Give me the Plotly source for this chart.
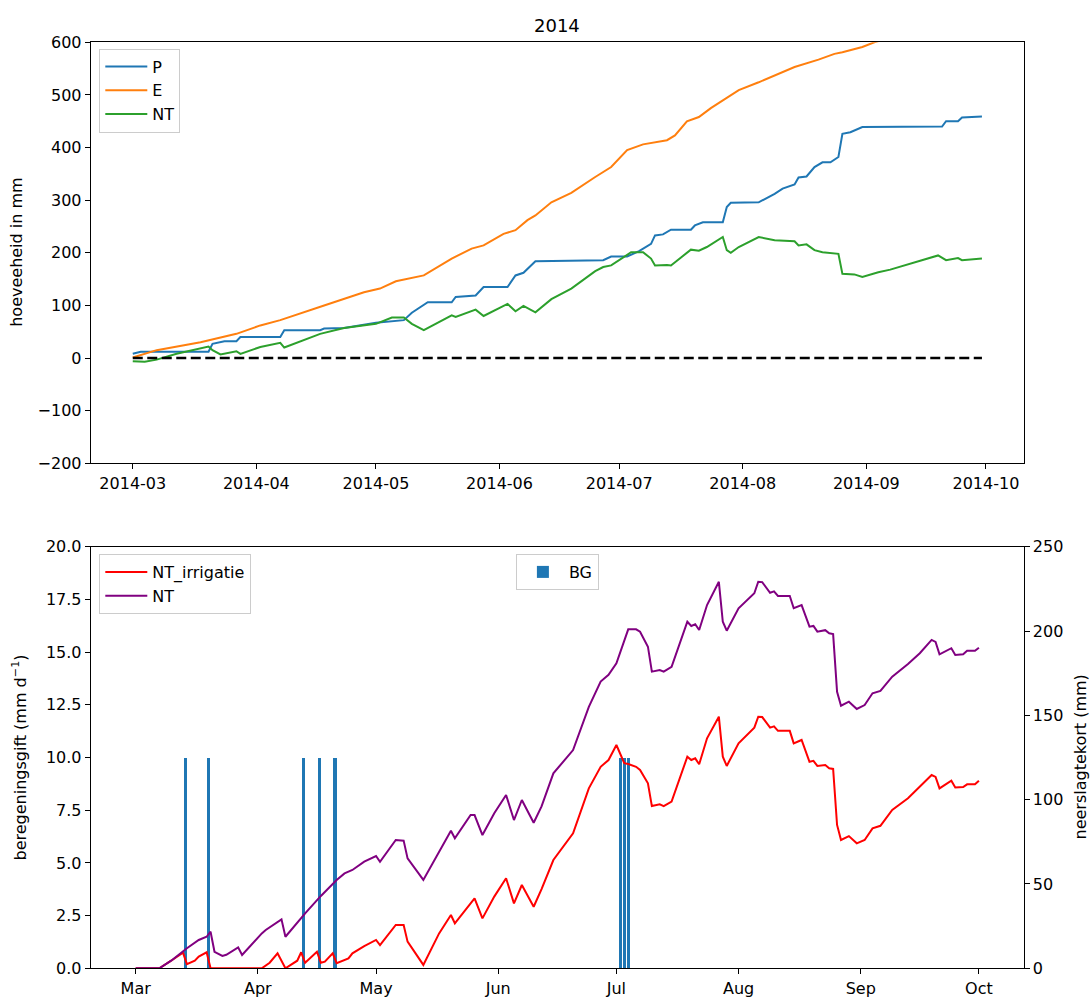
import pandas as pd
import plotly.graph_objects as go

START = pd.Timestamp("2014-03-01")
DAY_MS = 86400000

# ---- cumulative totals 2014 (mm), day offsets counted from 1 March ----
p_days = [0, 2, 19, 20, 23, 26, 27, 37, 38, 47, 48, 53, 61, 68, 70, 74, 80, 81, 86, 88,
          94, 96, 98, 101, 118, 120, 124, 127, 130, 131, 133, 135, 140, 141, 143, 148, 149, 150, 157, 161,
          163, 166, 167, 169, 171, 173, 175, 177, 178, 180, 183, 203, 204, 207, 208, 213]
p_vals = [8, 12, 12, 27, 32, 32, 40, 40, 53, 53, 56, 57, 67, 72, 86, 106, 106, 116, 119, 135,
          135, 157, 162, 184, 186, 193, 193, 203, 217, 233, 235, 244, 244, 252, 258, 258, 287, 295, 296, 312,
          322, 330, 343, 345, 363, 372, 372, 382, 426, 429, 439, 440, 450, 450, 457, 459]

e_days = [0, 6, 17, 26, 32, 37, 48, 58, 62, 66, 73, 80, 85, 88, 93, 96, 99, 101, 105, 110,
          116, 120, 124, 128, 134, 136, 139, 142, 145, 148, 152, 157, 161, 166, 172, 176, 178, 183, 186, 195,
          204, 213]
e_vals = [1, 15, 30, 46, 62, 72, 100, 125, 132, 146, 157, 189, 208, 214, 236, 243, 262, 271, 296, 314,
          344, 363, 395, 406, 414, 423, 450, 458, 475, 490, 509, 524, 537, 553, 567, 578, 581, 591, 600, 620,
          637, 648]

nt_days = [0, 3, 6, 11, 19, 20, 22, 26, 27, 32, 37, 38, 47, 53, 61, 65, 68, 70, 73, 80,
           81, 86, 88, 94, 96, 98, 101, 105, 110, 116, 118, 120, 125, 128, 130, 131, 134, 135, 140, 142,
           144, 148, 149, 150, 152, 157, 161, 166, 167, 169, 171, 173, 177, 178, 181, 183, 187, 190, 202, 204,
           207, 208, 213]
nt_vals = [-6, -7, -3, 8, 22, 15, 7, 13, 8, 21, 29, 20, 46, 57, 65, 77, 77, 65, 53, 81,
           78, 92, 80, 103, 89, 99, 87, 112, 132, 165, 173, 176, 201, 201, 189, 176, 177, 176, 206, 204,
           211, 230, 205, 200, 211, 230, 224, 222, 214, 216, 205, 201, 198, 160, 159, 154, 163, 168, 195, 186,
           190, 186, 189]

zero_days = [0, 213]
zero_vals = [0, 0]

# ---- irrigation (mm/d) and precipitation deficit (mm) ----
bg_dates = ["2014-03-13 12:00", "2014-03-19 12:00", "2014-04-12 12:00", "2014-04-16 12:00",
            "2014-04-20 12:00", "2014-07-02 00:00", "2014-07-03 00:00", "2014-07-04 00:00"]
bg_vals = [10, 10, 10, 10, 10, 10, 10, 10]

nt2_days = [0, 6, 9, 13, 16, 18, 19, 20, 22, 23, 26, 27, 32, 33, 37, 38, 43, 47, 51, 53,
            55, 58, 61, 62, 66, 68, 69, 73, 80, 81, 85, 86, 88, 91, 94, 96, 98, 101, 103, 106,
            111, 115, 118, 120, 122, 125, 127, 128, 130, 131, 133, 134, 136, 140, 141, 142, 143, 145, 148, 149,
            150, 153, 157, 158, 159, 161, 162, 163, 166, 167, 169, 171, 172, 173, 175, 176, 177, 178, 179, 181,
            183, 185, 187, 189, 192, 196, 199, 202, 203, 204, 207, 208, 210, 211, 213, 214]
nt2_vals = [0, 0, 4.5, 11.9, 16.8, 18.7, 21.7, 9.8, 7.3, 8, 12.4, 7.9, 20.7, 22.7, 29, 18.7, 32.6, 42.9, 52.4, 56.3,
            58.3, 63.2, 66.6, 63.2, 76.1, 75.7, 65.2, 52.4, 81.6, 77.1, 90.9, 90.9, 79, 91.9, 102.8, 87.9, 99.8, 86.3, 96, 115.6,
            129.4, 155, 170, 174, 180.9, 201, 201, 199.6, 190.7, 175.9, 176.9, 175.9, 178.8, 205.5, 203, 204, 200.6, 215.4, 229.2, 205.5,
            200.2, 213.5, 222.4, 229.2, 229, 222.7, 223.5, 220.8, 220.8, 213.5, 215.4, 202.6, 203, 199.6, 200.5, 198.7, 198.2, 164, 155.7, 158.1,
            153.8, 156.1, 163.1, 164.5, 172.9, 180.4, 186.8, 194.7, 193.5, 186.2, 189.8, 185.8, 186.2, 188.3, 188.3, 190.1]

irr_days = [0, 6, 9, 12, 13, 15, 16, 18, 19, 32, 34, 36, 38, 41, 42, 43, 46, 47, 48, 50,
            51, 53, 54, 55, 58, 61, 62, 66, 68, 69, 73, 77, 80, 81, 86, 88, 91, 94, 96, 98,
            101, 103, 106, 111, 115, 118, 120, 122, 123, 124, 125, 127, 128, 130, 131, 133, 134, 136, 140, 141,
            142, 143, 145, 148, 149, 150, 153, 157, 158, 159, 161, 162, 163, 166, 167, 169, 171, 172, 173, 175,
            176, 177, 178, 179, 181, 183, 185, 187, 189, 192, 196, 199, 202, 203, 204, 207, 208, 210, 211, 213,
            214]
irr_vals = [0, 0, 4.5, 9.3, 2.5, 4.5, 6.9, 9.5, 0, 0, 3.3, 8.9, 0, 4.5, 9.5, 3.3, 9.8, 3.3, 3.9, 8.9,
            3, 4.9, 5.9, 8.9, 13.2, 16.8, 13.8, 25.7, 25.7, 15.8, 2, 20.7, 31.6, 26.7, 41.5, 29.6, 42.5, 53.4, 38.5, 49.4,
            36.5, 47, 64.2, 80, 106.7, 119.5, 123.5, 132.4, 127.5, 121.6, 121.1, 119.5, 117.6, 109.7, 96.2, 97.2, 96.2, 98.8, 125.5, 123.5,
            124.5, 121, 136.4, 149.2, 125.5, 120, 133.4, 142.7, 149.2, 149, 142.7, 143.5, 140.8, 140.8, 133.4, 135.4, 122.5, 123, 120, 120.5,
            118.6, 118.2, 85, 76.1, 78.4, 74.1, 76.1, 83, 84.5, 93.9, 100.8, 107.7, 114.6, 113.5, 106.7, 111.2, 107.2, 107.5, 109.1, 109.1,
            111.2]

for a, b in [(p_days, p_vals), (e_days, e_vals), (nt_days, nt_vals),
             (nt2_days, nt2_vals), (irr_days, irr_vals), (bg_dates, bg_vals)]:
    assert len(a) == len(b)


def to_dates(days):
    return [START + pd.Timedelta(days=d) for d in days]


def day_str(offset):
    return (START + pd.Timedelta(days=offset)).strftime("%Y-%m-%d %H:%M:%S")


W, H = 1091, 997
FONT = "DejaVu Sans"
FS = 16


def px_x(x):
    return x / W


def px_y(y):
    return 1 - y / H


fig = go.Figure()

lw = 2
fig.add_trace(go.Scatter(x=to_dates(p_days), y=p_vals, mode="lines", name="P",
                         line=dict(color="#1f77b4", width=lw), xaxis="x", yaxis="y", legend="legend"))
fig.add_trace(go.Scatter(x=to_dates(e_days), y=e_vals, mode="lines", name="E",
                         line=dict(color="#ff7f0e", width=lw), xaxis="x", yaxis="y", legend="legend"))
fig.add_trace(go.Scatter(x=to_dates(nt_days), y=nt_vals, mode="lines", name="NT",
                         line=dict(color="#2ca02c", width=lw), xaxis="x", yaxis="y", legend="legend"))
fig.add_trace(go.Scatter(x=to_dates(zero_days), y=zero_vals, mode="lines", showlegend=False,
                         line=dict(color="black", width=2.4, dash="10px,4.5px"), xaxis="x", yaxis="y"))

fig.add_trace(go.Bar(x=pd.to_datetime(bg_dates, format="%Y-%m-%d %H:%M"), y=bg_vals, name="BG",
                     width=0.8 * DAY_MS,
                     marker=dict(color="#1f77b4", line=dict(width=0)), xaxis="x2", yaxis="y2",
                     legend="legend3"))
fig.add_trace(go.Scatter(x=to_dates(irr_days), y=irr_vals, mode="lines", name="NT_irrigatie",
                         line=dict(color="red", width=lw), xaxis="x2", yaxis="y3", legend="legend2"))
fig.add_trace(go.Scatter(x=to_dates(nt2_days), y=nt2_vals, mode="lines", name="NT",
                         line=dict(color="purple", width=lw), xaxis="x2", yaxis="y3", legend="legend2"))

tick_font = dict(family=FONT, size=FS, color="black")
axis_common = dict(showline=True, linecolor="black", linewidth=1, ticks="outside", ticklen=5,
                   tickwidth=1, tickcolor="black", showgrid=False, zeroline=False, tickfont=tick_font,
                   automargin=False)

x_dom = [px_x(90.7), px_x(1023.6)]
top_dom = [px_y(463.3), px_y(42.3)]
bot_dom = [px_y(968.3), px_y(546.7)]

legend_common = dict(bgcolor="rgba(255,255,255,0.8)", bordercolor="#cccccc", borderwidth=1,
                     font=dict(family=FONT, size=FS, color="black"), xanchor="left", yanchor="top",
                     itemwidth=42)

fig.update_layout(
    width=W, height=H, autosize=False,
    margin=dict(l=0, r=0, t=0, b=0, pad=0, autoexpand=False),
    paper_bgcolor="white", plot_bgcolor="white",
    font=dict(family=FONT, size=FS, color="black"),
    bargap=0,
    xaxis=dict(domain=x_dom, anchor="y", mirror=True, type="date",
               range=[day_str(-10.55), day_str(223.45)],
               dtick="M1", tick0="2014-03-01", tickformat="%Y-%m", **axis_common),
    yaxis=dict(domain=top_dom, anchor="x", mirror=True, range=[-200, 600], dtick=100, **axis_common),
    xaxis2=dict(domain=x_dom, anchor="y2", mirror=True, type="date",
                range=[day_str(-11.42), day_str(225.34)],
                dtick="M1", tick0="2014-03-01", tickformat="%b", **axis_common),
    yaxis2=dict(domain=bot_dom, anchor="x2", range=[0, 20], dtick=2.5, tickformat=".1f", **axis_common),
    yaxis3=dict(domain=bot_dom, anchor="x2", overlaying="y2", side="right", range=[0, 250], dtick=50,
                **axis_common),
    legend=dict(x=px_x(99.3), y=px_y(48.5), **legend_common),
    legend2=dict(x=px_x(99.3), y=px_y(554), **legend_common),
    legend3=dict(x=px_x(557.4), y=px_y(554), **{**legend_common, "xanchor": "center"}),
    annotations=[
        dict(text="2014", x=px_x(557), y=px_y(25), xref="paper", yref="paper", showarrow=False,
             font=dict(family=FONT, size=18, color="black"), xanchor="center", yanchor="middle"),
        dict(text="hoeveeheid in mm", x=px_x(17), y=px_y(252.8), xref="paper", yref="paper",
             showarrow=False, textangle=-90, font=dict(family=FONT, size=FS, color="black"),
             xanchor="center", yanchor="middle"),
        dict(text="beregeningsgift (mm d<sup>\u22121</sup>)", x=px_x(20), y=px_y(757.5), xref="paper",
             yref="paper", showarrow=False, textangle=-90, font=dict(family=FONT, size=FS, color="black"),
             xanchor="center", yanchor="middle"),
        dict(text="neerslagtekort (mm)", x=px_x(1080), y=px_y(757.5), xref="paper", yref="paper",
             showarrow=False, textangle=-90, font=dict(family=FONT, size=FS, color="black"),
             xanchor="center", yanchor="middle"),
    ],
)

fig.write_html("out.html")
